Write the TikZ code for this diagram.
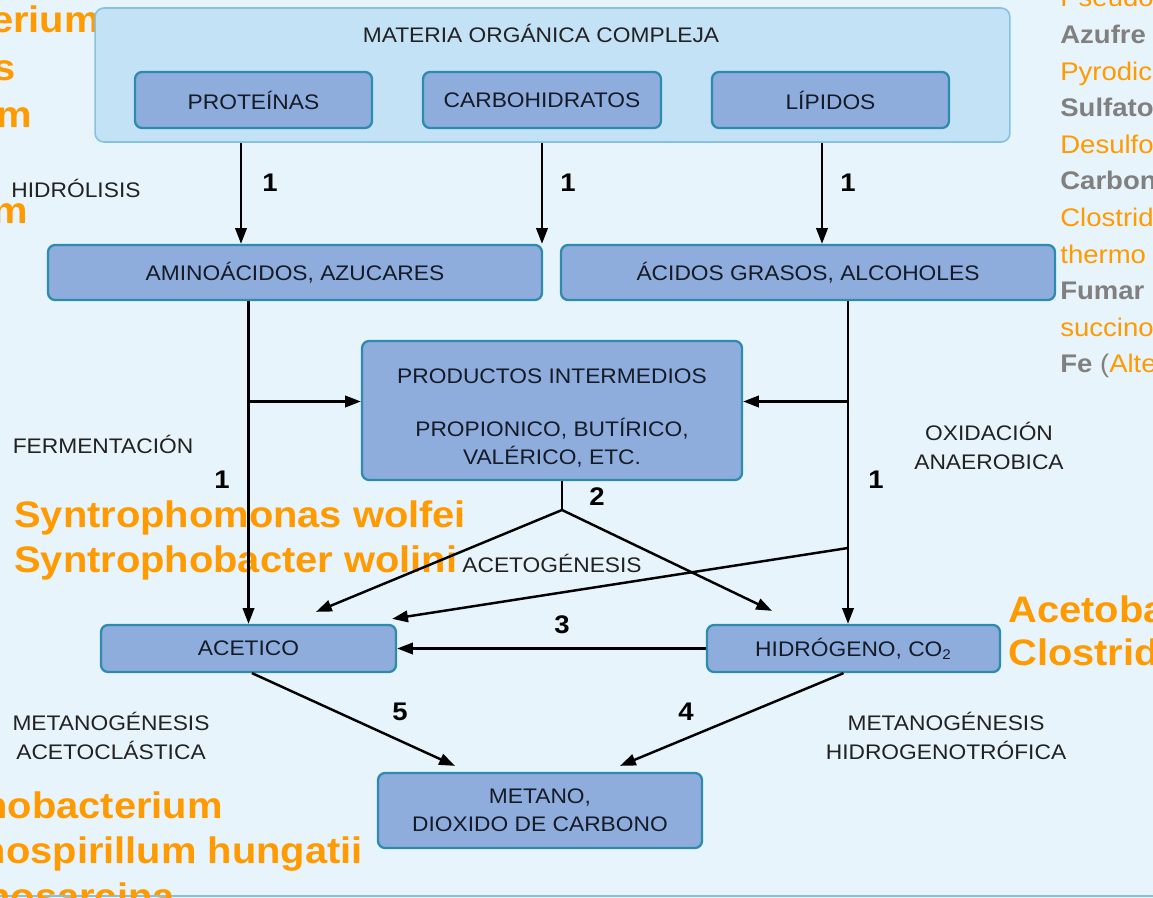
\documentclass[tikz,border=0pt]{standalone}
\usepackage{fontspec}
\setmainfont[FakeStretch=1.08]{Liberation Sans}
\usetikzlibrary{arrows.meta}

\definecolor{fondo}{HTML}{E8F4FB}
\definecolor{rellenomarco}{HTML}{C3E2F6}
\definecolor{bordemarco}{HTML}{86C2E0}
\definecolor{rellenocaja}{HTML}{8EADDD}
\definecolor{bordecaja}{HTML}{2E8BB0}
\definecolor{textocaja}{HTML}{151B27}
\definecolor{textoetiq}{HTML}{222222}
\definecolor{naranja}{HTML}{FF9A00}
\definecolor{gris}{HTML}{808080}

\tikzset{
    caja/.style={draw=bordecaja, fill=rellenocaja, line width=1.3pt,
        rounded corners=4pt, text=textocaja, align=center, inner sep=0pt,
        font=\fontsize{12}{16}\selectfont},
    marco/.style={draw=bordemarco, fill=rellenomarco, line width=0.9pt,
        rounded corners=5pt},
    etiqueta/.style={text=textoetiq, align=center, inner sep=0pt,
        font=\fontsize{12}{16}\selectfont},
    numero/.style={inner sep=0pt, font=\fontsize{14.5}{16}\selectfont\bfseries},
    flecha/.style={line width=1.4pt, -{Triangle[length=9pt,width=6.5pt]}},
    bacteria/.style={text=naranja, inner sep=0pt,
        font=\fontsize{21}{24}\selectfont\bfseries},
    lista/.style={inner sep=0pt, anchor=base west,
        font=\fontsize{14.5}{18}\selectfont}
}

\begin{document}
\begin{tikzpicture}[x=0.02cm, y=-0.02cm]
    \useasboundingbox (0,0) rectangle (1153,898);
    \clip (0,0) rectangle (1153,898);
    \fill[fondo] (0,0) rectangle (1153,898);
    \draw[bordemarco, line width=1pt] (0,896) -- (1153,896);

    % Nombres de bacterias (recortados por el borde).
    \node[bacteria, anchor=base east] (b1) at (100,33) {erium};
    \node[bacteria, anchor=base east] (b2) at (16,81) {s};
    \node[bacteria, anchor=base east] (b3) at (32,128) {m};
    \node[bacteria, anchor=base east] (b4) at (28,224) {m};
    \node[bacteria, anchor=base west] (b5) at (14,527) {Syntrophomonas wolfei};
    \node[bacteria, anchor=base west] (b6) at (14,572) {Syntrophobacter wolini};
    \node[bacteria, anchor=base west] (b7) at (1008,622) {Acetobac};
    \node[bacteria, anchor=base west] (b8) at (1008,665) {Clostrid};
    \node[bacteria, anchor=base east] (b9) at (223,818) {nobacterium};
    \node[bacteria, anchor=base east] (b10) at (363,863) {nospirillum hungatii};
    \node[bacteria, anchor=base east] (b11) at (175,909) {nosarcina};

    % Lista de aceptores de la derecha.
    \foreach \txt [count=\i from 0] in {
        {\color{naranja}Pseudo},
        {\bfseries\color{gris}Azufre},
        {\color{naranja}Pyrodic},
        {\bfseries\color{gris}Sulfato},
        {\color{naranja}Desulfo},
        {\bfseries\color{gris}Carbon},
        {\color{naranja}Clostrid},
        {\color{naranja}thermo},
        {\bfseries\color{gris}Fumar},
        {\color{naranja}succino},
        {{\bfseries\color{gris}Fe} {\color{gris}(}{\color{naranja}Alte}}%
    }
        \node[lista] at (1060,{7+36.6*\i}) {\txt};

    % Materia orgánica compleja.
    \node[marco, minimum width=18.3cm, minimum height=2.68cm] (materia) at (552.5,75) {};
    \node[etiqueta] (titulo) at (541,33) {MATERIA ORGÁNICA COMPLEJA};
    \node[caja, minimum width=4.74cm, minimum height=1.12cm] (prot) at (253.5,100) {PROTEÍNAS};
    \node[caja, minimum width=4.76cm, minimum height=1.12cm] (carb) at (542,100) {CARBOHIDRATOS};
    \node[caja, minimum width=4.74cm, minimum height=1.12cm] (lip) at (830.5,100) {LÍPIDOS};

    % Productos de la hidrólisis.
    \node[caja, minimum width=9.88cm, minimum height=1.1cm] (amino) at (295,272.5) {AMINOÁCIDOS, AZUCARES};
    \node[caja, minimum width=9.88cm, minimum height=1.1cm] (acidos) at (808,272.5) {ÁCIDOS GRASOS, ALCOHOLES};
    \node[caja, minimum width=7.6cm, minimum height=2.78cm] (prod) at (552,410.5)
        {\rule{0pt}{17pt}PRODUCTOS INTERMEDIOS\\[14pt] PROPIONICO, BUTÍRICO,\\ VALÉRICO, ETC.};

    % Acetato, hidrógeno y metano.
    \node[caja, minimum width=5.9cm, minimum height=0.94cm] (acetico) at (248.5,648.5) {ACETICO};
    \node[caja, minimum width=5.86cm, minimum height=0.94cm] (hidro) at (853.5,648.5) {HIDRÓGENO, CO\textsubscript{2}};
    \node[caja, minimum width=6.48cm, minimum height=1.5cm] (metano) at (540,810.5) {METANO,\\ DIOXIDO DE CARBONO};

    % Etiquetas de las etapas.
    \node[etiqueta] (hidrolisis) at (76,188) {HIDRÓLISIS};
    \node[etiqueta] (ferment) at (103,444) {FERMENTACIÓN};
    \node[etiqueta] (oxida) at (989,446) {OXIDACIÓN\\ ANAEROBICA};
    \node[etiqueta] (acetog) at (552,563) {ACETOGÉNESIS};
    \node[etiqueta] (metacet) at (111,736) {METANOGÉNESIS\\ ACETOCLÁSTICA};
    \node[etiqueta] (methid) at (946,736) {METANOGÉNESIS\\ HIDROGENOTRÓFICA};

    % Números de las reacciones.
    \node[numero] (n1) at (270,183) {1};
    \node[numero] (n2) at (568,183) {1};
    \node[numero] (n3) at (848,183) {1};
    \node[numero] (n4) at (222,480) {1};
    \node[numero] (n5) at (876,480) {1};
    \node[numero] (n6) at (597,497) {2};
    \node[numero] (n7) at (562,625) {3};
    \node[numero] (n8) at (686,712) {4};
    \node[numero] (n9) at (400,712) {5};

    % Hidrólisis.
    \draw[flecha] (materia.south -| 241,0) -- (amino.north -| 241,0);
    \draw[flecha] (materia.south -| carb.south) -- (amino.north -| carb.south);
    \draw[flecha] (materia.south -| 822,0) -- (acidos.north -| 822,0);

    % Fermentación y oxidación.
    \draw[flecha] (amino.south -| acetico.north) -- (acetico.north);
    \draw[flecha] ([yshift=0.18cm]prod.west -| acetico.north) -- ([yshift=0.18cm]prod.west);
    \draw[flecha] (acidos.south -| 848,0) -- (hidro.north -| 848,0);
    \draw[flecha] ([yshift=0.18cm]prod.east -| 848,0) -- ([yshift=0.18cm]prod.east);
    \coordinate (oxi) at (848,548);
    \draw[flecha] (oxi) -- ([shift={(-0.1cm,0.1cm)}]acetico.north east);

    % Acetogénesis.
    \coordinate (bif) at (562,510);
    \draw[line width=1.4pt] (prod.south -| bif) -- (bif);
    \draw[flecha] (bif) -- ([xshift=1.35cm,yshift=0.24cm]acetico.north);
    \draw[flecha] (bif) -- ([xshift=-1.63cm,yshift=0.26cm]hidro.north);
    \draw[flecha] (hidro.west) -- (acetico.east);

    % Metanogénesis.
    \draw[flecha] ([xshift=0.07cm]acetico.south) -- ([xshift=-1.7cm,yshift=0.12cm]metano.north);
    \draw[flecha] ([xshift=-0.2cm]hidro.south) -- ([xshift=1.6cm,yshift=0.12cm]metano.north);
\end{tikzpicture}
\end{document}
